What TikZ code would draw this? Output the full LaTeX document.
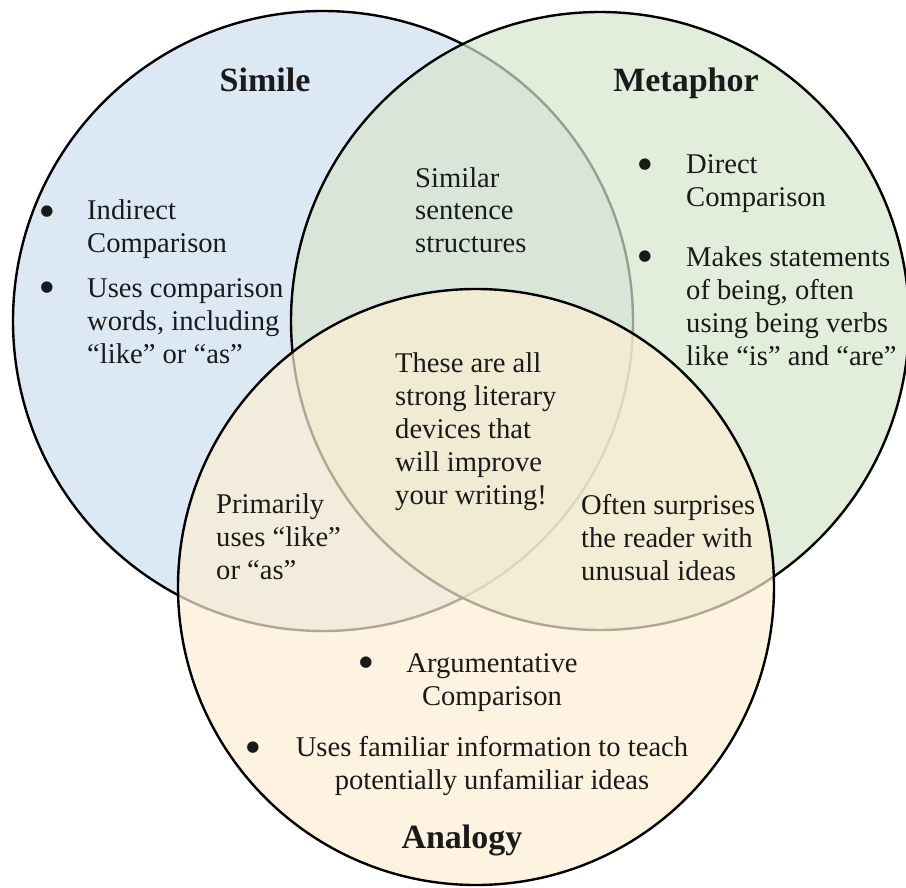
\documentclass[tikz,border=0pt]{standalone}
\usepackage{fontspec}
\setmainfont{Liberation Serif}
\newfontfamily\bulfont{DejaVu Sans}
\definecolor{simfill}{RGB}{221,232,245}
\definecolor{metfill}{RGB}{214,229,205}
\definecolor{anafill}{RGB}{252,238,211}
\definecolor{ink}{RGB}{26,26,26}
\begin{document}
\begin{tikzpicture}[x=1pt,y=-1pt,
  ring/.style={circle, inner sep=0pt, outer sep=0pt, draw=black, line width=2.4pt},
  title/.style={inner sep=0pt, text=ink, font=\fontsize{34}{40}\selectfont\bfseries},
  body/.style={inner sep=0pt, text=ink, align=left, font=\fontsize{28.6}{33}\selectfont},
  cbody/.style={inner sep=0pt, text=ink, align=center, font=\fontsize{28.6}{33}\selectfont},
  bul/.style={inner sep=0pt, text=ink, font=\bulfont\fontsize{15}{15}\selectfont}]
\useasboundingbox (0,0) rectangle (906,888);
% circles
\node[ring, fill=simfill, minimum size=620pt] (simile) at (323,321) {};
\node[ring, fill=metfill, fill opacity=0.7, minimum size=618pt] (metaphor) at (600,321) {};
\node[ring, fill=anafill, fill opacity=0.7, minimum size=596pt] (analogy) at (476,587) {};
% titles
\node[title, anchor=base] (tsim) at (265,92) {Simile};
\node[title, anchor=base] (tmet) at (686,92) {Metaphor};
\node[title, anchor=base] (tana) at (462,848) {Analogy};
% simile (anchor = baseline of last line)
\node[bul] (bs1) at (47,212) {●};
\node[body, anchor=base west] (s1) at (87,253) {Indirect\\Comparison};
\node[bul] (bs2) at (47,288) {●};
\node[body, anchor=base west] (s2) at (87,363) {Uses comparison\\words, including\\“like” or “as”};
% simile & metaphor
\node[body, anchor=base west] (sm) at (415,253) {Similar\\sentence\\structures};
% metaphor
\node[bul] (bm1) at (645,165) {●};
\node[body, anchor=base west] (m1) at (686,207) {Direct\\Comparison};
\node[bul] (bm2) at (645,257) {●};
\node[body, anchor=base west] (m2) at (686,365) {Makes statements\\of being, often\\using being verbs\\like “is” and “are”};
% centre
\node[body, anchor=base west] (all) at (395,504) {These are all\\strong literary\\devices that\\will improve\\your writing!};
% simile & analogy
\node[body, anchor=base west] (sa) at (216,579) {Primarily\\uses “like”\\or “as”};
% metaphor & analogy
\node[body, anchor=base west] (ma) at (581,580) {Often surprises\\the reader with\\unusual ideas};
% analogy
\node[bul] (ba1) at (366,663) {●};
\node[cbody, anchor=base] (a1) at (492,705) {Argumentative\\Comparison};
\node[bul] (ba2) at (253,748) {●};
\node[cbody, anchor=base] (a2) at (492,789) {Uses familiar information to teach\\potentially unfamiliar ideas};
\end{tikzpicture}
\end{document}
